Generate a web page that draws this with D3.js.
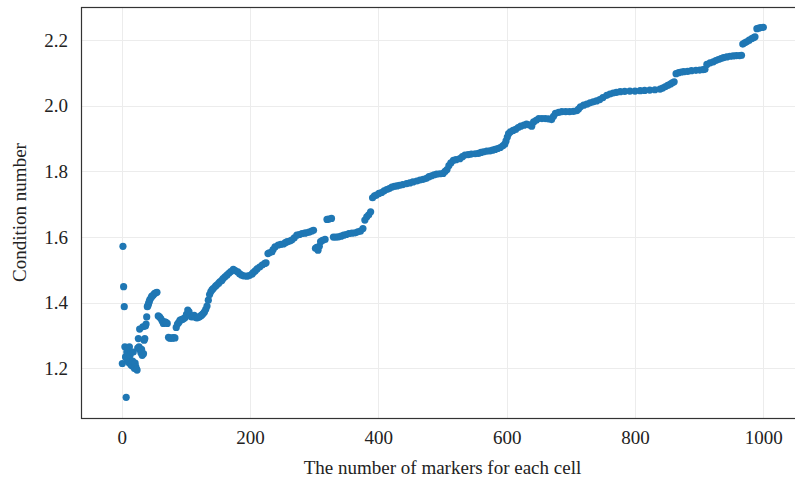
<!DOCTYPE html>
<html>
<head>
<meta charset="utf-8">
<script src="https://cdn.jsdelivr.net/npm/d3@7"></script>
<style>
  html, body { margin: 0; padding: 0; background: #ffffff; }
  svg { display: block; }
  text { font-family: "Liberation Serif", "Times New Roman", serif; fill: #222; }
</style>
</head>
<body>
<svg id="chart" width="795" height="482"></svg>
<script>
// Number of markers per cell
const markerCounts = [
  1, 2, 3, 4, 5, 6, 7, 8, 9, 10, 11, 12, 13, 14, 15, 16, 17, 18, 19, 20,
  21, 22, 23, 24, 25, 26, 27, 28, 29, 30, 31, 32, 33, 34, 35, 36, 37, 38, 39, 40,
  41, 42, 43, 44, 46, 47, 49, 51, 53, 55, 57, 59, 61, 63, 65, 67, 69, 71, 73, 75,
  77, 79, 81, 83, 85, 87, 89, 91, 93, 95, 97, 99, 101, 103, 105, 107, 109, 111, 113, 115,
  117, 119, 121, 123, 125, 127, 129, 131, 133, 135, 137, 139, 141, 143, 146, 148, 151, 153, 156, 158,
  161, 164, 167, 170, 174, 177, 181, 184, 187, 190, 195, 199, 203, 205, 208, 211, 215, 219, 223, 225,
  228, 230, 234, 236, 239, 244, 248, 252, 255, 258, 262, 265, 269, 273, 277, 281, 285, 288, 292, 296,
  299, 302, 304, 306, 308, 310, 313, 317, 320, 323, 327, 330, 334, 338, 342, 346, 350, 354, 359, 364,
  368, 372, 376, 379, 382, 385, 388, 391, 394, 397, 401, 405, 409, 413, 417, 421, 425, 429, 433, 438,
  444, 449, 454, 460, 465, 470, 475, 479, 483, 487, 491, 496, 501, 504, 507, 510, 513, 517, 521, 527,
  531, 535, 540, 545, 551, 556, 560, 564, 569, 574, 578, 582, 586, 590, 594, 597, 599, 601, 603, 606,
  610, 614, 618, 622, 627, 631, 635, 639, 642, 646, 650, 655, 660, 665, 670, 673, 676, 681, 686, 692,
  698, 704, 709, 712, 715, 720, 725, 730, 735, 740, 745, 750, 756, 761, 766, 771, 777, 784, 792, 800,
  808, 815, 823, 831, 839, 843, 847, 851, 855, 858, 861, 864, 868, 872, 876, 882, 888, 895, 901, 906,
  909, 912, 917, 922, 926, 930, 934, 938, 943, 948, 953, 958, 963, 966, 968, 971, 974, 978, 982, 985,
  987, 990, 993, 996, 1000
];

// Condition number measured for each marker count
const conditionNumbers = [
  1.215, 1.572, 1.449, 1.388, 1.266, 1.235, 1.112, 1.250, 1.225, 1.262, 1.218, 1.266, 1.240, 1.212, 1.250, 1.208, 1.222, 1.250, 1.205, 1.200,
  1.216, 1.205, 1.198, 1.195, 1.262, 1.291, 1.266, 1.320, 1.256, 1.248, 1.258, 1.240, 1.327, 1.245, 1.286, 1.291, 1.329, 1.335, 1.357, 1.388,
  1.392, 1.398, 1.404, 1.410, 1.416, 1.420, 1.423, 1.428, 1.430, 1.432, 1.360, 1.357, 1.352, 1.345, 1.337, 1.342, 1.340, 1.337, 1.295, 1.292,
  1.293, 1.292, 1.294, 1.293, 1.325, 1.335, 1.340, 1.347, 1.348, 1.350, 1.352, 1.355, 1.365, 1.378, 1.372, 1.362, 1.357, 1.358, 1.362, 1.356,
  1.354, 1.355, 1.357, 1.360, 1.363, 1.367, 1.372, 1.380, 1.390, 1.408, 1.425, 1.434, 1.440, 1.444, 1.450, 1.454, 1.459, 1.464, 1.468, 1.474,
  1.479, 1.484, 1.490, 1.495, 1.502, 1.498, 1.494, 1.488, 1.484, 1.482, 1.481, 1.483, 1.487, 1.492, 1.497, 1.503, 1.509, 1.515, 1.520, 1.522,
  1.550, 1.552, 1.555, 1.562, 1.570, 1.576, 1.578, 1.579, 1.583, 1.586, 1.588, 1.591, 1.598, 1.606, 1.608, 1.611, 1.612, 1.613, 1.615, 1.618,
  1.621, 1.566, 1.569, 1.560, 1.572, 1.586, 1.590, 1.593, 1.654, 1.655, 1.657, 1.600, 1.600, 1.601, 1.603, 1.606, 1.608, 1.611, 1.612, 1.613,
  1.616, 1.618, 1.626, 1.652, 1.662, 1.668, 1.677, 1.720, 1.726, 1.728, 1.733, 1.736, 1.741, 1.745, 1.748, 1.752, 1.755, 1.756, 1.758, 1.760,
  1.763, 1.765, 1.768, 1.771, 1.774, 1.776, 1.779, 1.784, 1.787, 1.790, 1.792, 1.793, 1.794, 1.800, 1.806, 1.818, 1.826, 1.834, 1.836, 1.839,
  1.845, 1.850, 1.851, 1.853, 1.854, 1.855, 1.858, 1.860, 1.862, 1.863, 1.865, 1.867, 1.870, 1.873, 1.878, 1.883, 1.893, 1.905, 1.915, 1.921,
  1.925, 1.928, 1.934, 1.938, 1.941, 1.944, 1.942, 1.938, 1.951, 1.956, 1.961, 1.961, 1.961, 1.960, 1.958, 1.968, 1.977, 1.980, 1.982, 1.982,
  1.982, 1.983, 1.985, 1.990, 1.997, 2.002, 2.005, 2.009, 2.012, 2.015, 2.019, 2.025, 2.032, 2.036, 2.039, 2.041, 2.043, 2.044, 2.045, 2.045,
  2.046, 2.047, 2.048, 2.049, 2.051, 2.054, 2.058, 2.062, 2.066, 2.070, 2.073, 2.098, 2.101, 2.103, 2.104, 2.105, 2.107, 2.108, 2.109, 2.110,
  2.111, 2.126, 2.131, 2.134, 2.138, 2.141, 2.144, 2.147, 2.149, 2.151, 2.152, 2.153, 2.153, 2.154, 2.188, 2.192, 2.195, 2.200, 2.205, 2.208,
  2.210, 2.235, 2.237, 2.238, 2.239
];

const xTickValues = [0, 200, 400, 600, 800, 1000];
const yTickValues = [1.2, 1.4, 1.6, 1.8, 2.0, 2.2];

const xTitle = "The number of markers for each cell";
const yTitle = "Condition number";

const plot = { left: 81, top: 7, right: 797, bottom: 418 };
const fontFamily = '"Liberation Serif", "Times New Roman", serif';

const svg = d3.select("#chart");

const x = d3.scaleLinear()
  .domain([-63.4, 1052.5])
  .range([plot.left, plot.right]);

const y = d3.scaleLinear()
  .domain([1.049, 2.301])
  .range([plot.bottom, plot.top]);

// Grid lines
const grid = svg.append("g").attr("class", "grid");
grid.selectAll("line.vx")
  .data(xTickValues)
  .join("line")
  .attr("class", "vx")
  .attr("x1", d => Math.round(x(d)) + 0.5)
  .attr("x2", d => Math.round(x(d)) + 0.5)
  .attr("y1", plot.top)
  .attr("y2", plot.bottom)
  .attr("stroke", "#ececec")
  .attr("stroke-width", 1);

grid.selectAll("line.hy")
  .data(yTickValues)
  .join("line")
  .attr("class", "hy")
  .attr("x1", plot.left)
  .attr("x2", plot.right)
  .attr("y1", d => Math.round(y(d)) + 0.5)
  .attr("y2", d => Math.round(y(d)) + 0.5)
  .attr("stroke", "#ececec")
  .attr("stroke-width", 1);

// Scatter points
const points = d3.zip(markerCounts, conditionNumbers);
svg.append("g")
  .selectAll("circle")
  .data(points)
  .join("circle")
  .attr("cx", d => x(d[0]))
  .attr("cy", d => y(d[1]))
  .attr("r", 3.6)
  .attr("fill", "#1f77b4");

// Axes (labels only, no tick marks)
const xAxis = d3.axisBottom(x)
  .tickValues(xTickValues)
  .tickFormat(d3.format("d"))
  .tickSize(0)
  .tickPadding(13);

const yAxis = d3.axisLeft(y)
  .tickValues(yTickValues)
  .tickFormat(d3.format(".1f"))
  .tickSize(0)
  .tickPadding(13);

const gx = svg.append("g")
  .attr("transform", `translate(0,${plot.bottom})`)
  .call(xAxis);
gx.select(".domain").remove();
gx.selectAll("text")
  .style("font-family", fontFamily)
  .style("font-size", "19px")
  .attr("fill", "#222");

const gy = svg.append("g")
  .attr("transform", `translate(${plot.left},0)`)
  .call(yAxis);
gy.select(".domain").remove();
gy.selectAll("text")
  .style("font-family", fontFamily)
  .style("font-size", "19px")
  .attr("fill", "#222");

// Plot frame
svg.append("rect")
  .attr("x", plot.left + 0.5)
  .attr("y", plot.top + 0.5)
  .attr("width", plot.right - plot.left)
  .attr("height", plot.bottom - plot.top)
  .attr("fill", "none")
  .attr("stroke", "#333")
  .attr("stroke-width", 1.2);

// Axis titles
svg.append("text")
  .attr("x", (x(0) + x(1000)) / 2)
  .attr("y", 474)
  .attr("text-anchor", "middle")
  .style("font-family", fontFamily)
  .style("font-size", "19px")
  .text(xTitle);

svg.append("text")
  .attr("transform", `translate(26,${(plot.top + plot.bottom) / 2}) rotate(-90)`)
  .attr("text-anchor", "middle")
  .style("font-family", fontFamily)
  .style("font-size", "19px")
  .text(yTitle);
</script>
</body>
</html>
